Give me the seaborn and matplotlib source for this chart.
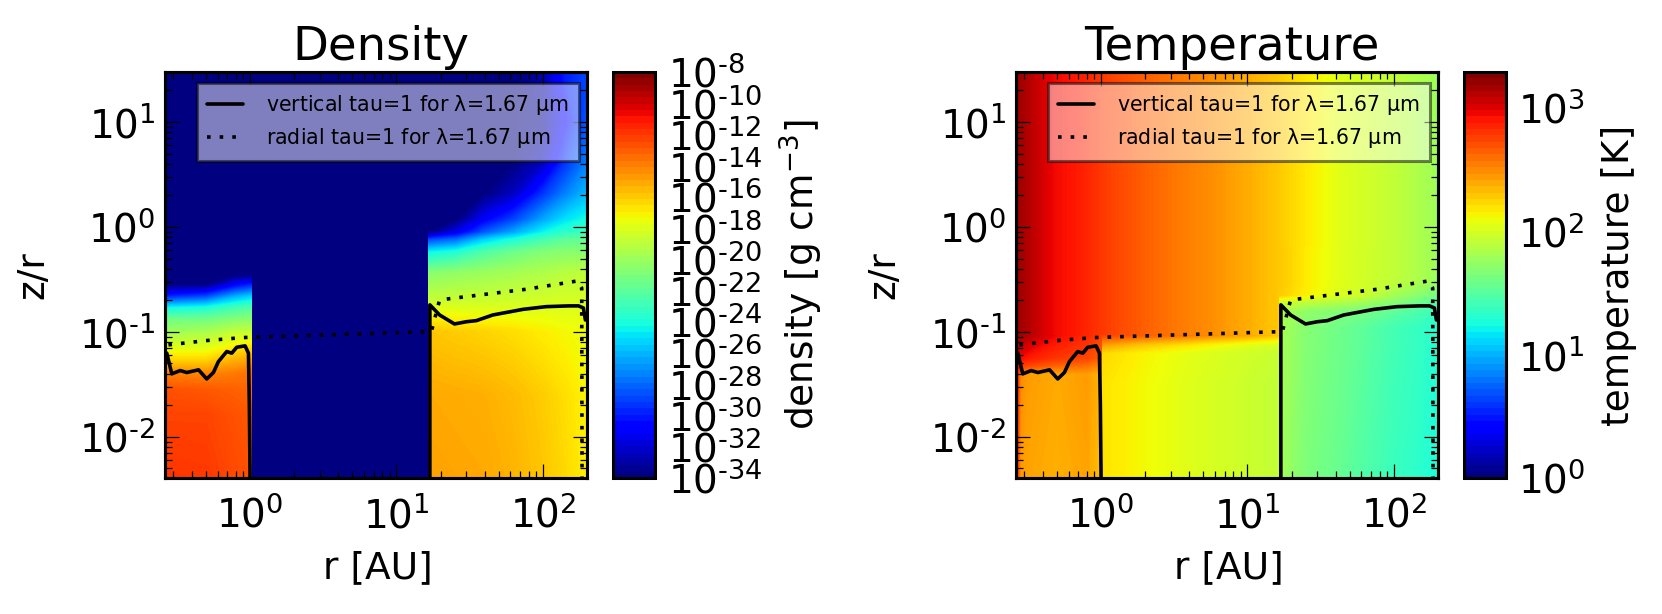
import numpy as np
import pandas as pd
import matplotlib
matplotlib.use("Agg")
import matplotlib.pyplot as plt
from matplotlib.cm import ScalarMappable
from matplotlib.colors import Normalize
from matplotlib.ticker import LogLocator, NullFormatter
import seaborn as sns

# tau=1 curves
vert_inner_r = [0.270, 0.292, 0.333, 0.370, 0.445, 0.506, 0.562, 0.608, 0.693, 0.750, 0.811, 0.925, 0.975, 0.989, 1.00]
vert_inner_zr = [0.0627, 0.0398, 0.0428, 0.0410, 0.0435, 0.0356, 0.0410, 0.0521, 0.0650, 0.0627, 0.0714, 0.0736, 0.0627, 0.0200, 0.0041]
vert_outer_r = [16.9, 16.9, 19.7, 24.9, 30.0, 35.1, 45.5, 73.0, 105.0, 151.0, 175.0, 189.0, 195.0]
vert_outer_zr = [0.0041, 0.181, 0.145, 0.119, 0.125, 0.128, 0.145, 0.164, 0.174, 0.177, 0.177, 0.169, 0.130]
rad_r = [0.277, 0.499, 0.90, 1.08, 17.3, 19.7, 77.0, 172.0, 184.0, 185.0]
rad_zr = [0.0752, 0.0826, 0.0883, 0.0891, 0.1007, 0.2018, 0.255, 0.306, 0.262, 0.0041]

# log10 density, rows run from the midplane up
dens_in_logr = [-0.58, -0.30, -0.10, 0.01]
dens_in_logz = [-2.39, -1.80, -1.55, -1.39, -1.27, -1.14, -1.00, -0.89, -0.77, -0.66, -0.55, -0.46]
dens_in = [
    [-11.8, -11.9, -12.4, -12.6],
    [-12.2, -12.2, -12.6, -12.8],
    [-12.6, -12.8, -13.0, -13.2],
    [-14.0, -14.2, -13.8, -13.4],
    [-16.2, -16.2, -15.2, -14.8],
    [-18.0, -18.0, -17.0, -16.6],
    [-20.0, -19.6, -18.8, -18.8],
    [-21.2, -21.2, -20.6, -20.4],
    [-24.5, -24.0, -22.8, -22.4],
    [-30.0, -29.0, -26.4, -25.6],
    [-34.0, -34.0, -31.0, -30.0],
    [-34.0, -34.0, -34.0, -34.0],
]
dens_out_logr = [1.22, 1.41, 1.60, 1.80, 2.00, 2.15, 2.30]
dens_out_logz = [-2.39, -1.60, -1.00, -0.82, -0.70, -0.44, -0.24, -0.12, -0.05, 0.07, 0.32, 0.61, 1.00, 1.48]
dens_out = [
    [-14.8, -14.9, -15.0, -15.3, -15.8, -16.3, -17.0],
    [-15.0, -15.1, -15.2, -15.5, -16.0, -16.5, -17.1],
    [-15.8, -16.0, -16.2, -16.5, -16.9, -17.2, -17.4],
    [-17.4, -17.5, -17.6, -17.7, -17.7, -17.8, -17.8],
    [-18.7, -18.6, -18.5, -18.4, -18.3, -18.2, -18.2],
    [-20.6, -20.3, -20.0, -19.7, -19.4, -19.1, -18.9],
    [-24.5, -23.8, -22.4, -21.5, -20.8, -20.6, -20.6],
    [-29.0, -28.0, -25.5, -24.0, -22.8, -22.0, -21.8],
    [-34.0, -31.5, -28.5, -26.5, -24.5, -23.5, -23.0],
    [-34.0, -34.0, -31.0, -29.0, -26.5, -25.0, -24.2],
    [-34.0, -34.0, -34.0, -32.5, -29.5, -27.5, -26.0],
    [-34.0, -34.0, -34.0, -34.0, -32.5, -29.5, -27.5],
    [-34.0, -34.0, -34.0, -34.0, -33.5, -31.0, -28.5],
    [-34.0, -34.0, -34.0, -34.0, -33.0, -30.0, -29.0],
]

# log10 temperature
temp_up_logr = [-0.58, -0.52, -0.31, -0.16, 0.07, 0.30, 0.52, 0.75, 0.98, 1.20, 1.42, 1.65, 2.03, 2.30]
temp_up_logz = [-1.03, 1.48]
temp_up = [
    [3.22, 3.16, 2.96, 2.90, 2.76, 2.66, 2.57, 2.50, 2.40, 2.30, 2.17, 2.04, 1.91, 1.78],
    [3.22, 3.16, 2.96, 2.90, 2.76, 2.66, 2.57, 2.50, 2.40, 2.30, 2.17, 2.04, 1.91, 1.78],
]
temp_in_logr = [-0.58, -0.55, -0.50, -0.30, -0.10, 0.01]
temp_in_logz = [-2.39, -1.40, -1.32, -1.25, -1.03]
temp_in = [
    [2.95, 2.45, 2.42, 2.38, 2.42, 2.30],
    [3.00, 2.50, 2.45, 2.40, 2.45, 2.35],
    [3.05, 2.80, 2.75, 2.65, 2.60, 2.50],
    [3.10, 2.95, 2.90, 2.80, 2.75, 2.65],
    [3.22, 3.18, 3.14, 2.96, 2.86, 2.76],
]
temp_gap_logr = [0.01, 0.30, 0.60, 1.00, 1.22]
temp_gap_logz = [-2.39, -1.50, -1.20, -1.12, -1.03]
temp_gap = [
    [2.20, 2.12, 2.04, 1.96, 1.92],
    [2.20, 2.12, 2.04, 1.96, 1.92],
    [2.24, 2.14, 2.06, 1.98, 1.94],
    [2.45, 2.30, 2.20, 2.06, 2.00],
    [2.76, 2.66, 2.57, 2.42, 2.30],
]
temp_out_logr = [1.22, 1.40, 1.60, 1.80, 2.00, 2.15, 2.30]
temp_out_logz = [-2.39, -0.95, -0.80, -0.72, -0.65, -0.55, -0.45, -0.20]
temp_out = [
    [1.80, 1.65, 1.57, 1.47, 1.38, 1.33, 1.27],
    [1.82, 1.68, 1.60, 1.52, 1.42, 1.37, 1.30],
    [1.85, 1.72, 1.68, 1.62, 1.53, 1.46, 1.38],
    [1.95, 1.90, 1.85, 1.78, 1.68, 1.58, 1.48],
    [2.28, 2.15, 2.03, 1.95, 1.80, 1.70, 1.60],
    [2.30, 2.17, 2.06, 1.98, 1.90, 1.82, 1.72],
    [2.30, 2.17, 2.06, 1.98, 1.92, 1.85, 1.78],
    [2.30, 2.17, 2.06, 1.98, 1.92, 1.85, 1.78],
]

dens_ticks = list(range(-34, -7, 2))
temp_ticks = [0, 1, 2, 3]
LEG_VERT = r"vertical tau=1 for $\lambda$=1.67 µm"
LEG_RAD = r"radial tau=1 for $\lambda$=1.67 µm"

W, H = 1662, 614
TICK_FS = 28
LABEL_FS = 27
LW = 2.6
DOTS = (0, (1, 2.5))

sns.set_style("ticks")
plt.rcParams.update({
    "axes.linewidth": 2.2,
    "axes.edgecolor": "black",
    "text.color": "black",
    "axes.labelcolor": "black",
    "xtick.color": "black",
    "ytick.color": "black",
    "xtick.direction": "in",
    "ytick.direction": "in",
    "xtick.top": True,
    "ytick.right": True,
    "mathtext.default": "regular",
})


def frac(x0, y0, x1, y1):
    return [x0 / W, 1 - y1 / H, (x1 - x0) / W, (y1 - y0) / H]


def exp_label(v):
    # the original uses a short hyphen in the exponents, not a minus
    return "$10^{%s}$" % str(v).replace("-", "\u2010")


def draw_panel(x0, cx0, title, patches, vmin, vmax, ticks, cb_label, floor, cb_pad):
    box = (x0, 72, x0 + 422, 478)

    # field lives on a hidden linear axes in log10 units, so contourf blends in log space
    bg = fig.add_axes(frac(*box), zorder=1)
    bg.set_xlim(np.log10(0.2625), np.log10(200))
    bg.set_ylim(np.log10(0.00405), np.log10(30))
    bg.set_xticks([])
    bg.set_yticks([])
    bg.set_facecolor(floor)
    levels = np.linspace(vmin, vmax, 257)
    for logr, logz, vals in patches:
        bg.contourf(logr, logz, np.array(vals), levels=levels, cmap="jet")

    ax = fig.add_axes(frac(*box), zorder=2)
    ax.set_facecolor("none")
    ax.set_xscale("log")
    ax.set_yscale("log")

    inner = pd.DataFrame({"r": vert_inner_r, "zr": vert_inner_zr})
    outer = pd.DataFrame({"r": vert_outer_r, "zr": vert_outer_zr})
    radial = pd.DataFrame({"r": rad_r, "zr": rad_zr})
    sns.lineplot(data=inner, x="r", y="zr", sort=False, estimator=None, color="black",
                 linewidth=LW, ax=ax, legend=False, label=LEG_VERT)
    sns.lineplot(data=outer, x="r", y="zr", sort=False, estimator=None, color="black",
                 linewidth=LW, ax=ax, legend=False, label="_outer")
    sns.lineplot(data=radial, x="r", y="zr", sort=False, estimator=None, color="black",
                 linewidth=LW, linestyle=DOTS, ax=ax, legend=False, label=LEG_RAD)

    ax.set_xlim(0.2625, 200)
    ax.set_ylim(0.00405, 30)
    ax.yaxis.set_major_locator(LogLocator(base=10, numticks=12))
    ax.yaxis.set_minor_locator(LogLocator(base=10, subs=np.arange(2, 10), numticks=12))
    ax.xaxis.set_minor_formatter(NullFormatter())
    ax.yaxis.set_minor_formatter(NullFormatter())
    ax.set_xticks([1, 10, 100], [exp_label(0), exp_label(1), exp_label(2)])
    ax.set_yticks([0.01, 0.1, 1, 10], [exp_label(-2), exp_label(-1), exp_label(0), exp_label(1)])
    ax.tick_params(which="major", length=10, width=0.9, labelsize=TICK_FS)
    ax.tick_params(axis="x", which="major", pad=13)
    ax.tick_params(axis="y", which="major", pad=7)
    ax.tick_params(which="minor", length=5, width=0.9)
    ax.set_xlabel("r [AU]", fontsize=LABEL_FS, x=0.505, labelpad=10)
    ax.set_ylabel("z/r", fontsize=LABEL_FS, labelpad=20)
    ax.set_title(title, fontsize=33.5, x=0.512, pad=9)

    leg = ax.legend(loc="upper left", bbox_to_anchor=(32 / 422, (478 - 83) / 406),
                    fontsize=14.8, frameon=True, fancybox=False, framealpha=0.5, facecolor="white",
                    edgecolor="black", borderaxespad=0, borderpad=0.5, labelspacing=0.44,
                    handlelength=1.75, handletextpad=1.1)
    leg.get_frame().set_linewidth(2.2)

    # colorbar is stepped like the original, the field itself stays smooth
    cax = fig.add_axes(frac(cx0, 72, cx0 + 42, 478), zorder=2)
    sm = ScalarMappable(norm=Normalize(vmin, vmax), cmap=plt.get_cmap("jet", 64))
    cb = fig.colorbar(sm, cax=cax)
    cb.set_ticks(ticks, labels=[exp_label(t) for t in ticks])
    cb.minorticks_off()
    cb.outline.set_linewidth(2.2)
    cax.tick_params(axis="y", which="major", direction="in", right=True, left=False,
                    length=8, width=0.9, labelsize=TICK_FS, pad=9)
    cb.set_label(cb_label, fontsize=LABEL_FS, labelpad=cb_pad)


fig = plt.figure(figsize=(W / 100, H / 100), dpi=100, facecolor="white")

draw_panel(165, 613, "Density",
           [(dens_in_logr, dens_in_logz, dens_in), (dens_out_logr, dens_out_logz, dens_out)],
           -34, -8, dens_ticks, "density [g cm$^{-3}$]", plt.get_cmap("jet")(0), 11)
draw_panel(1016, 1464, "Temperature",
           [(temp_up_logr, temp_up_logz, temp_up), (temp_in_logr, temp_in_logz, temp_in),
            (temp_gap_logr, temp_gap_logz, temp_gap), (temp_out_logr, temp_out_logz, temp_out)],
           0, 3.29, temp_ticks, "temperature [K]", "white", 11)

fig.savefig("out.png", dpi=100)
